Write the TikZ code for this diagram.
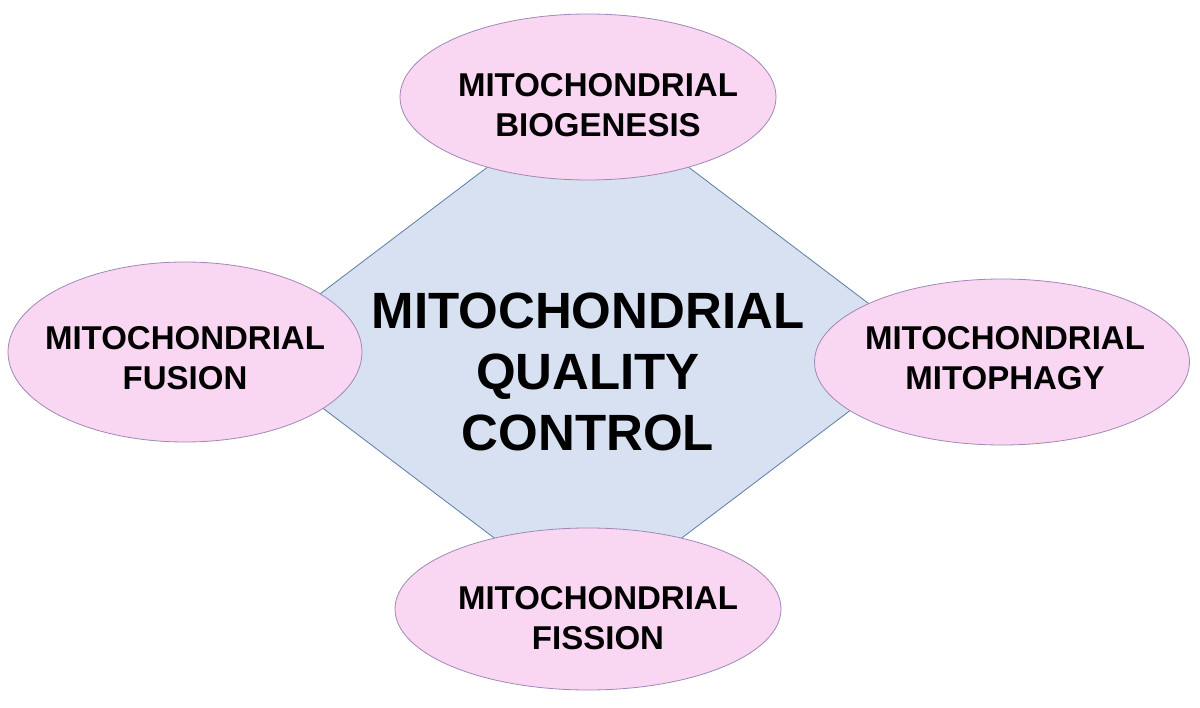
\documentclass[tikz,border=0pt]{standalone}
\usepackage{fontspec}
\setmainfont{Liberation Sans}
\begin{document}
\begin{tikzpicture}[x=1pt,y=-1pt,
  ell/.style={ellipse,draw=ellb,fill=pinkf,line width=0.8pt,inner sep=0pt},
  etext/.style={font=\fontsize{33}{40}\selectfont\bfseries,align=center}]
\usetikzlibrary{shapes.geometric}
\definecolor{pinkf}{HTML}{F9D6F1}
\definecolor{ellb}{HTML}{A088B8}
\definecolor{diaf}{HTML}{D8E1F1}
\definecolor{diab}{HTML}{5A7DA5}
\useasboundingbox (0,0) rectangle (1200,708);
\coordinate (dt) at (588,91);
\coordinate (dl) at (246,350);
\coordinate (dr) at (930,350);
\coordinate (db) at (588,609);
\draw[fill=diaf,draw=diab,line width=0.8pt] (dt) -- (dr) -- (db) -- (dl) -- cycle;
\node[ell,minimum width=376pt,minimum height=166pt] (top) at (588,97) {};
\node[ell,minimum width=354pt,minimum height=180pt] (left) at (185,352) {};
\node[ell,minimum width=375pt,minimum height=166pt] (right) at (1002,362) {};
\node[ell,minimum width=386pt,minimum height=162pt] (bot) at (588,609) {};
\node[etext] (tt) at (598,105) {MITOCHONDRIAL\\BIOGENESIS};
\node[etext] (lt) at (185,358) {MITOCHONDRIAL\\FUSION};
\node[etext] (rt) at (1005,358) {MITOCHONDRIAL\\MITOPHAGY};
\node[etext] (bt) at (598,618) {MITOCHONDRIAL\\FISSION};
\node[font=\fontsize{51}{61}\selectfont\bfseries,align=center] (ct) at (588,372) {MITOCHONDRIAL\\QUALITY\\CONTROL};
\end{tikzpicture}
\end{document}
